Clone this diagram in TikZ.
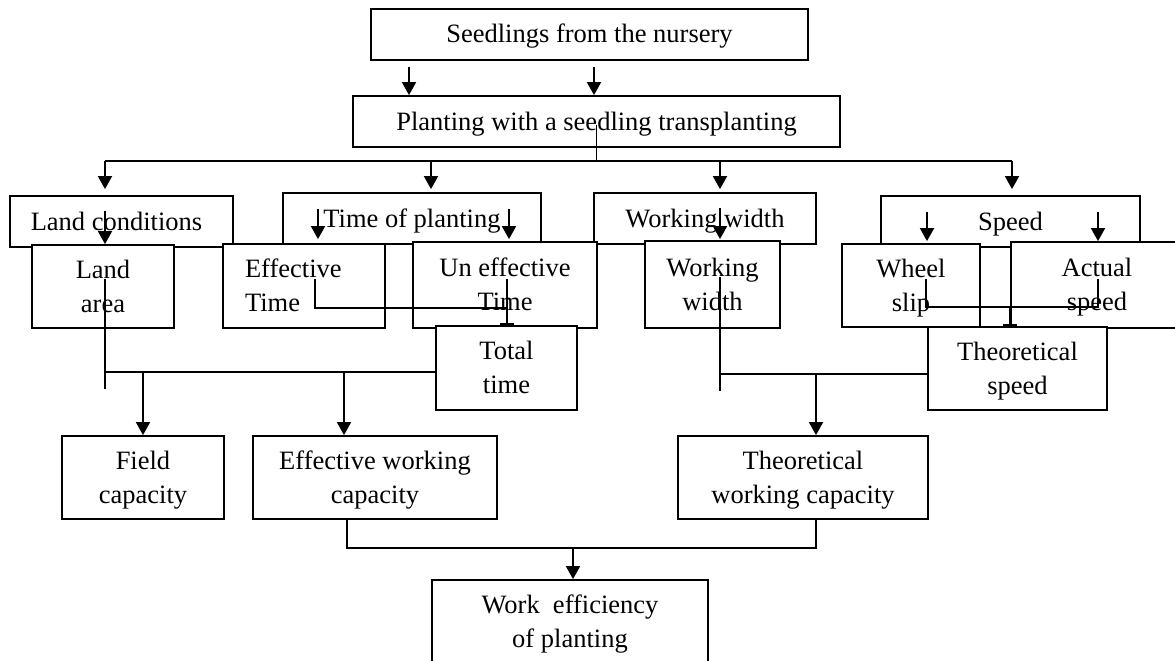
\documentclass[tikz,border=0pt]{standalone}
\usepackage{fontspec}
\setmainfont{Liberation Serif}
\usetikzlibrary{arrows.meta,calc}
\newcommand\mytop{\rule{0pt}{24pt}}
\newcommand\mybot{\rule[-7pt]{0pt}{0pt}}
\begin{document}
\begin{tikzpicture}[x=1pt,y=-1pt,
  box/.style={draw, line width=1.8pt, fill=white, inner sep=0pt, align=center, font=\fontsize{26.5}{34}\selectfont},
  ln/.style={line width=1.8pt},
  arr/.style={line width=1.8pt, -{Triangle[length=13pt,width=14pt]}},
  tee/.style={line width=1.8pt, -{Bar[width=14pt,line width=1.8pt]}}]
\path[use as bounding box] (0,0) rectangle (1175,661);
\clip (0,0) rectangle (1175,661);
% top
\node[box, minimum width=437pt, minimum height=51pt] (seed) at (589.5,34.5) {\mytop Seedlings from the nursery\mybot};
\node[box, minimum width=487pt, minimum height=51pt] (plant) at (596.5,121.5) {\mytop Planting with a seedling transplanting\mybot};
% headers
\node[box, minimum width=223pt, minimum height=51pt] (landc) at (121.5,221.5) {\mytop Land conditions\hspace*{10pt}\mybot};
\node[box, minimum width=258pt, minimum height=51pt] (timep) at (412,218.5) {\mytop Time of planting\mybot};
\node[box, minimum width=222pt, minimum height=51pt] (workw) at (705,218.5) {\mytop Working width\mybot};
\node[box, minimum width=259pt, minimum height=51pt] (speed) at (1010.5,221.5) {\mytop Speed\mybot};
% row 3
\node[box, minimum width=142pt, minimum height=83pt] (landa) at (103,286.5) {\mytop Land\\area\mybot};
\node[box, minimum width=162pt, minimum height=84pt, text width=118pt, align=left] (efft) at (304,286) {\mytop Effective\\Time\mybot};
\node[box, minimum width=184pt, minimum height=86pt] (uneff) at (505,285) {\mytop Un effective\\Time\mybot};
\node[box, minimum width=135pt, minimum height=87pt] (wwbox) at (712.5,284.5) {\mytop Working\\width\mybot};
\node[box, minimum width=138pt, minimum height=83pt] (wheel) at (911,285.5) {\mytop Wheel\\slip\mybot};
\node[box, minimum width=172pt, minimum height=86pt] (actual) at (1097,285) {\mytop Actual\\speed\mybot};
% row 4
\node[box, minimum width=141pt, minimum height=84pt] (total) at (506.5,368) {\mytop Total\\time\mybot};
\node[box, minimum width=179pt, minimum height=83pt] (theos) at (1017.5,368.5) {\mytop Theoretical\\speed\mybot};
% row 5
\node[box, minimum width=162pt, minimum height=83pt] (field) at (143,477.5) {\mytop Field\\capacity\mybot};
\node[box, minimum width=244pt, minimum height=83pt] (ewc) at (375,477.5) {\mytop Effective working\\capacity\mybot};
\node[box, minimum width=250pt, minimum height=83pt] (twc) at (803,477.5) {\mytop Theoretical\\working capacity\mybot};
% bottom
\node[box, minimum width=276pt, minimum height=84pt] (work) at (570,622) {\mytop Work~~efficiency\\of planting\mybot};
% helper coordinates
\coordinate (xa) at (409,0);
\coordinate (xb) at (594,0);
\coordinate (h1) at (105,161);
\coordinate (h2) at (431,161);
\coordinate (h3) at (720,161);
\coordinate (h4) at (1012,161);
\coordinate (t1) at (318,209);
\coordinate (t2) at (509,209);
\coordinate (s0) at (927,212);
\coordinate (s3) at (1098,212);
\coordinate (e1) at (315,279);
\coordinate (e2) at (507,279);
\coordinate (ej) at (507,308);
\coordinate (s1) at (926,279);
\coordinate (s2) at (1098,279);
\coordinate (sj) at (1010,307);
\coordinate (l1) at (105,279);
\coordinate (l2) at (105,389);
\coordinate (lj) at (105,372);
\coordinate (lk) at (344,372);
\coordinate (w1) at (720,277);
\coordinate (w2) at (720,391);
\coordinate (wj) at (720,374);
\coordinate (wk) at (816,374);
\coordinate (b1) at (347,548);
\coordinate (b2) at (816,548);
\coordinate (bk) at (573,548);
% seedlings -> planting
\draw[arr] ($(seed.south -| xa)+(0,6)$) -- (xa |- plant.north);
\draw[arr] ($(seed.south -| xb)+(0,6)$) -- (xb |- plant.north);
% planting -> headers
\draw[ln] ($(plant.center)+(0,3)$) -- (plant.center |- h1);
\draw[ln] (h1) -- (h4);
\draw[arr] (h1) -- ($(h1 |- landc.north)+(0,-6)$);
\draw[arr] (h2) -- ($(h2 |- timep.north)+(0,-3)$);
\draw[arr] (h3) -- ($(h3 |- workw.north)+(0,-3)$);
\draw[arr] (h4) -- ($(h4 |- speed.north)+(0,-6)$);
% headers -> row 3
\draw[arr] ($(h1 |- landc.north)+(0,16)$) -- (h1 |- landa.north);
\draw[arr] (t1) -- ($(t1 |- efft.north)+(0,-4)$);
\draw[arr] (t2) -- ($(t2 |- uneff.north)+(0,-2)$);
\draw[arr] ($(h3 |- workw.north)+(0,16)$) -- ($(h3 |- wwbox.north)+(0,-1)$);
\draw[arr] (s0) -- ($(s0 |- wheel.north)+(0,-2)$);
\draw[arr] (s3) -- (s3 |- actual.north);
% effective / un effective -> total
\draw[ln] (e1) |- (ej);
\draw[tee] (e2) -- (e2 |- total.north);
% wheel slip / actual speed -> theoretical speed
\draw[ln] (s1) |- (s2 |- sj) -- (s2);
\draw[tee] (sj) -- (sj |- theos.north);
% land area / total time -> capacities
\draw[ln] (l1) -- (l2);
\draw[ln] (lj) -- (lj -| total.west);
\draw[arr] (lj -| field.north) -- (field.north);
\draw[arr] (lk) -- (lk |- ewc.north);
% working width / theoretical speed -> theoretical working capacity
\draw[ln] (w1) -- (w2);
\draw[ln] (wj) -- (wj -| theos.west);
\draw[arr] (wk) -- (wk |- twc.north);
% capacities -> work efficiency
\draw[ln] (b1 |- ewc.south) -- (b1) -- (b2) -- (b2 |- twc.south);
\draw[arr] (bk) -- (bk |- work.north);
\end{tikzpicture}
\end{document}
